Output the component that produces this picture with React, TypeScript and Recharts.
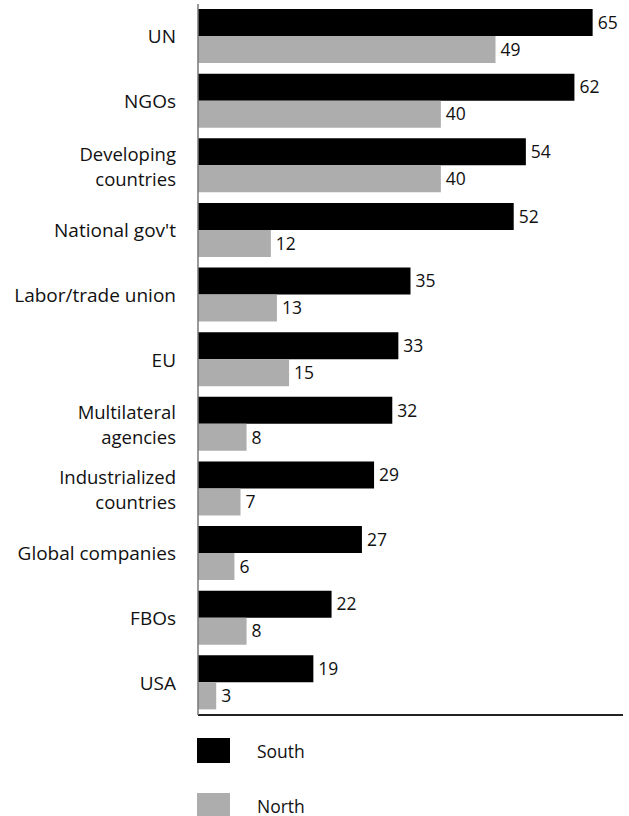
import React from "react";
import { BarChart, Bar, XAxis, YAxis, LabelList } from "recharts";

const categories = [
  "UN",
  "NGOs",
  "Developing\ncountries",
  "National gov't",
  "Labor/trade union",
  "EU",
  "Multilateral\nagencies",
  "Industrialized\ncountries",
  "Global companies",
  "FBOs",
  "USA",
];
const southValues = [65, 62, 54, 52, 35, 33, 32, 29, 27, 22, 19];
const northValues = [49, 40, 40, 12, 13, 15, 8, 7, 6, 8, 3];
const seriesNames = ["South", "North"];
const seriesColors = ["#000000", "#adadad"];

const data = categories.map((c, i) => ({
  category: c,
  South: southValues[i],
  North: northValues[i],
}));

const FONT = "'Open Sans', 'Noto Sans', sans-serif";

const CategoryTick = (props: any) => {
  const { x, y, payload } = props;
  const lines = String(payload.value).split("\n");
  const lh = 25;
  const start = -((lines.length - 1) * lh) / 2;
  return (
    <g>
      {lines.map((l, i) => (
        <text
          key={i}
          x={x - 14}
          y={y + start + i * lh}
          textAnchor="end"
          fontFamily={FONT}
          fontSize={lines.length > 1 ? 18.5 : 19}
          fill="#111"
          dominantBaseline="central"
        >
          {l}
        </text>
      ))}
    </g>
  );
};

const EmptyTick = () => <g />;

export default function App() {
  return (
    <div style={{ position: "absolute", left: 0, top: 0, width: 629, height: 816, background: "#fff" }}>
      <BarChart
        width={629}
        height={816}
        data={data}
        layout="vertical"
        margin={{ top: 4, right: 6, bottom: 96, left: 0 }}
        barGap={0}
        barCategoryGap={10}
      >
        <XAxis
          type="number"
          domain={[0, 70]}
          ticks={[0, 70]}
          tick={<EmptyTick />}
          tickLine={false}
          height={5}
          stroke="#222"
          strokeWidth={2}
          axisLine={true}
        />
        <YAxis
          type="category"
          dataKey="category"
          width={198}
          tick={<CategoryTick />}
          tickLine={false}
          interval={0}
          stroke="#777"
          strokeWidth={1.5}
          axisLine={true}
        />
        {seriesNames.map((n, i) => (
          <Bar key={n} dataKey={n} fill={seriesColors[i]} barSize={27} isAnimationActive={false}>
            <LabelList
              dataKey={n}
              position="right"
              offset={5}
              style={{ fontFamily: FONT, fontSize: 17.5, fill: "#111" }}
            />
          </Bar>
        ))}
      </BarChart>
      {seriesNames.map((n, i) => (
        <div
          key={n}
          style={{
            position: "absolute",
            left: 197,
            top: 738 + i * 55,
            display: "flex",
            alignItems: "center",
            height: 25,
            fontFamily: FONT,
            fontSize: 17.5,
            color: "#111",
          }}
        >
          <div style={{ width: 33, height: 25, background: seriesColors[i] }} />
          <span style={{ marginLeft: 27 }}>{n}</span>
        </div>
      ))}
    </div>
  );
}
